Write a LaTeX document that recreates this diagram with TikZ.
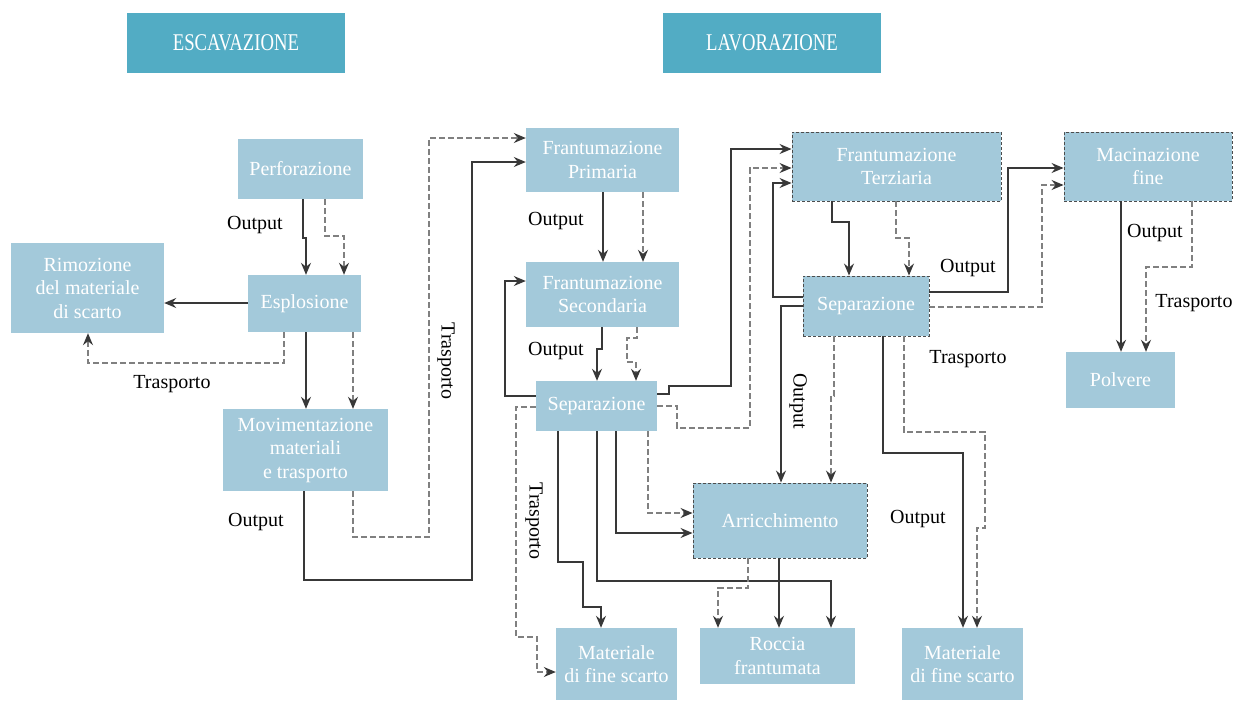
\documentclass[tikz,border=0pt]{standalone}
\usepackage{fontspec}
\setmainfont{Liberation Serif}
\newfontfamily\headfont[FakeStretch=0.78]{Liberation Serif}
\usetikzlibrary{arrows.meta}
\definecolor{boxblue}{HTML}{A3C9DA}
\definecolor{headblue}{HTML}{52ACC4}
\definecolor{solidc}{HTML}{383838}
\definecolor{dashc}{HTML}{808080}
\newcommand\bxfont{\fontsize{20}{23.5}\selectfont}
\begin{document}
\begin{tikzpicture}[x=1pt,y=-1pt,
  box/.style={fill=boxblue, text=white, inner sep=0pt, align=center, font=\bxfont},
  dbox/.style={box, draw=black!70, dash pattern=on 3pt off 2pt, line width=0.9pt},
  head/.style={fill=headblue, text=white, inner sep=0pt, font=\headfont\fontsize{24}{26}\selectfont},
  tip/.style={-{Stealth[length=12pt,width=10pt,inset=4pt,color=solidc]}},
  sline/.style={draw=solidc, line width=1.4pt, tip},
  dline/.style={draw=dashc, line width=1.3pt, dash pattern=on 6pt off 3pt, tip},
  lbl/.style={font=\fontsize{20}{22}\selectfont, text=black, inner sep=0pt}]
\useasboundingbox[fill=white] (0,0) rectangle (1235,702);
% headers
\node[head, minimum width=218pt, minimum height=60pt] (esc) at (236,43) {ESCAVAZIONE};
\node[head, minimum width=218pt, minimum height=60pt] (lav) at (772,43) {LAVORAZIONE};
% boxes
\node[box, minimum width=125pt, minimum height=60pt] (perf) at (300.5,169) {Perforazione};
\node[box, minimum width=113pt, minimum height=57pt] (espl) at (304.5,303.5) {Esplosione};
\node[box, minimum width=153pt, minimum height=90pt] (rim) at (87.5,288) {Rimozione\\del materiale\\di scarto};
\node[box, minimum width=165pt, minimum height=82pt] (mov) at (305.5,450) {Movimentazione\\materiali\\e trasporto};
\node[box, minimum width=153pt, minimum height=64pt] (fp) at (602.5,160) {Frantumazione\\Primaria};
\node[box, minimum width=153pt, minimum height=65pt] (fs) at (602.5,294.5) {Frantumazione\\Secondaria};
\node[box, minimum width=121pt, minimum height=50pt] (sepL) at (596.5,406) {Separazione};
\node[dbox, minimum width=174pt, minimum height=75pt] (arr) at (780,520.5) {Arricchimento};
\node[box, minimum width=121pt, minimum height=72pt] (mfsL) at (616.5,664) {Materiale\\di fine scarto};
\node[box, minimum width=155pt, minimum height=56pt] (roc) at (777.5,656) {Roccia\\frantumata};
\node[dbox, minimum width=209pt, minimum height=69pt] (ft) at (896.5,166.5) {Frantumazione\\Terziaria};
\node[dbox, minimum width=126pt, minimum height=60pt] (sepR) at (866,306) {Separazione};
\node[dbox, minimum width=168pt, minimum height=69pt] (mac) at (1148,166.5) {Macinazione\\fine};
\node[box, minimum width=109pt, minimum height=56pt] (pol) at (1120.5,380) {Polvere};
\node[box, minimum width=121pt, minimum height=72pt] (mfsR) at (962.5,664) {Materiale\\di fine scarto};
% connectors: escavazione
\draw[sline] (303,0 |- perf.south) -- (303,238) -- (306,238) -- (306,0 |- espl.north);
\draw[dline] (325,0 |- perf.south) -- (325,236) -- (344,236) -- (344,0 |- espl.north);
\draw[sline] (espl.west |- 0,303) -- (rim.east |- 0,303);
\draw[dline] (284,0 |- espl.south) -- (284,363) -- (88,363) -- (88,0 |- rim.south);
\draw[sline] (306,0 |- espl.south) -- (306,0 |- mov.north);
\draw[dline] (353,0 |- espl.south) -- (353,0 |- mov.north);
\draw[sline] (304,0 |- mov.south) -- (304,580) -- (472,580) -- (472,162) -- (fp.west |- 0,162);
\draw[dline] (353,0 |- mov.south) -- (353,537) -- (429,537) -- (429,138) -- (fp.west |- 0,138);
% lavorazione
\draw[sline] (603,0 |- fp.south) -- (603,0 |- fs.north);
\draw[dline] (643,0 |- fp.south) -- (643,0 |- fs.north);
\draw[sline] (602,0 |- fs.south) -- (602,349) -- (597,349) -- (597,0 |- sepL.north);
\draw[dline] (637,0 |- fs.south) -- (637,338) -- (627,338) -- (627,362) -- (636,362) -- (636,0 |- sepL.north);
\draw[sline] (sepL.west |- 0,396) -- (505,396) -- (505,281) -- (fs.west |- 0,281);
\draw[sline] (sepL.east |- 0,394) -- (669,394) -- (669,386) -- (731,386) -- (731,149) -- (ft.west |- 0,149);
\draw[dline] (sepL.east |- 0,406) -- (677,406) -- (677,428) -- (750,428) -- (750,168) -- (ft.west |- 0,168);
\draw[sline] (sepR.west |- 0,297) -- (773,297) -- (773,183) -- (ft.west |- 0,183);
\draw[sline] (sepR.west |- 0,306) -- (781,306) -- (781,0 |- arr.north);
\draw[dline] (834,0 |- sepR.south) -- (834,396) -- (831,396) -- (831,0 |- arr.north);
\draw[sline] (832,0 |- ft.south) -- (832,222) -- (849,222) -- (849,0 |- sepR.north);
\draw[dline] (896,0 |- ft.south) -- (896,238) -- (909,238) -- (909,0 |- sepR.north);
\draw[sline] (sepR.east |- 0,292) -- (1008,292) -- (1008,168) -- (mac.west |- 0,168);
\draw[dline] (sepR.east |- 0,307) -- (1042,307) -- (1042,185) -- (mac.west |- 0,185);
\draw[sline] (883,0 |- sepR.south) -- (883,453) -- (963,453) -- (963,0 |- mfsR.north);
\draw[dline] (904,0 |- sepR.south) -- (904,432) -- (985,432) -- (985,528) -- (977,528) -- (977,0 |- mfsR.north);
\draw[sline] (1121,0 |- mac.south) -- (1121,0 |- pol.north);
\draw[dline] (1192,0 |- mac.south) -- (1192,267) -- (1146,267) -- (1146,0 |- pol.north);
\draw[dline] (sepL.west |- 0,407) -- (516,407) -- (516,637) -- (537,637) -- (537,672) -- (mfsL.west |- 0,672);
\draw[sline] (558,0 |- sepL.south) -- (558,562) -- (583,562) -- (583,607) -- (601,607) -- (601,0 |- mfsL.north);
\draw[sline] (597,0 |- sepL.south) -- (597,581) -- (831,581) -- (831,0 |- roc.north);
\draw[sline] (616,0 |- sepL.south) -- (616,533) -- (arr.west |- 0,533);
\draw[dline] (648,0 |- sepL.south) -- (648,513) -- (arr.west |- 0,513);
\draw[sline] (779,0 |- arr.south) -- (779,0 |- roc.north);
\draw[dline] (748,0 |- arr.south) -- (748,588) -- (718,588) -- (718,0 |- roc.north);
% labels
\node[lbl] (l1) at (255,225) {Output};
\node[lbl] (l2) at (172,384) {Trasporto};
\node[lbl] (l3) at (256,522) {Output};
\node[lbl, rotate=-90] (l4) at (446,361) {Trasporto};
\node[lbl] (l5) at (556,221) {Output};
\node[lbl] (l6) at (556,351) {Output};
\node[lbl, rotate=-90] (l7) at (534,521) {Trasporto};
\node[lbl, rotate=-90] (l8) at (798,401) {Output};
\node[lbl] (l9) at (968,268) {Output};
\node[lbl] (l10) at (968,359) {Trasporto};
\node[lbl] (l11) at (918,519) {Output};
\node[lbl] (l12) at (1155,233) {Output};
\node[lbl] (l13) at (1194,303) {Trasporto};
\end{tikzpicture}
\end{document}
